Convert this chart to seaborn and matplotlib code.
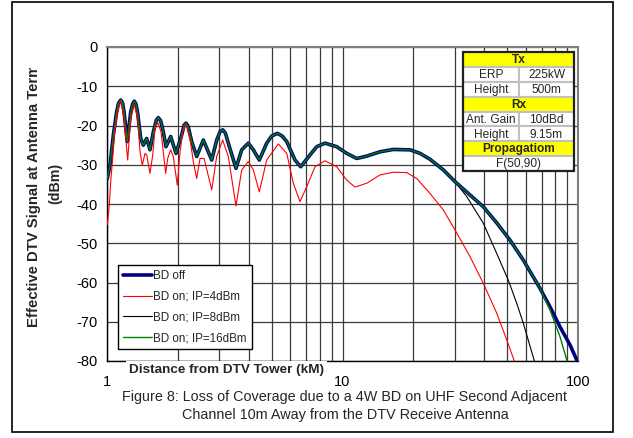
import pandas as pd
import seaborn as sns
import matplotlib.pyplot as plt
from matplotlib.patches import Rectangle
from matplotlib.transforms import Bbox, TransformedBbox


# Distance from the tower (km) and received signal (dBm)
bd_off_km = [1.003, 1.030, 1.064, 1.099, 1.120, 1.144, 1.165, 1.181, 1.219, 1.261,
             1.285, 1.306, 1.328, 1.350, 1.390, 1.426, 1.474, 1.522, 1.573, 1.620,
             1.652, 1.690, 1.734, 1.780, 1.864, 1.963, 2.076, 2.125, 2.165, 2.210,
             2.289, 2.404, 2.564, 2.784, 2.923, 3.020, 3.099, 3.180, 3.274, 3.530,
             3.733, 3.981, 4.181, 4.434, 4.766, 5.000, 5.287, 5.550, 5.798, 6.285,
             6.644, 7.278, 7.770, 8.428, 9.450, 10.42, 11.49, 12.67, 14.43, 16.44,
             19.35, 21.34, 23.52, 26.79, 30.04, 34.78, 39.62, 45.16, 51.43, 58.59,
             68.97, 76.04, 83.87, 92.48, 98.74, 100.0]
bd_off_dbm = [-33.5, -30.1, -22.4, -16.5, -14.3, -13.5, -14.3, -16.5, -24.1, -16.5,
              -14.5, -13.8, -14.6, -16.9, -23.3, -25.0, -23.3, -26.2, -21.6, -18.6,
              -18.0, -18.8, -21.6, -25.4, -22.8, -27.1, -22.4, -19.9, -19.4, -20.2,
              -24.1, -27.9, -23.7, -28.8, -23.7, -21.6, -21.1, -21.9, -24.5, -30.9,
              -26.2, -24.5, -26.2, -28.8, -24.5, -22.7, -22.0, -22.7, -24.1, -28.8,
              -30.5, -27.5, -25.4, -24.5, -25.4, -27.1, -28.4, -27.8, -26.7, -26.1,
              -26.2, -27.1, -28.6, -31.3, -34.3, -37.7, -40.7, -44.8, -49.2, -54.3,
              -61.5, -66.2, -71.3, -75.9, -79.7, -81.0]

ip4_km = [1.003, 1.023, 1.037, 1.057, 1.081, 1.117, 1.147, 1.181, 1.224, 1.261,
          1.306, 1.350, 1.381, 1.412, 1.450, 1.474, 1.522, 1.564, 1.599, 1.642,
          1.696, 1.734, 1.775, 1.810, 1.864, 1.912, 1.988, 2.042, 2.097, 2.165,
          2.251, 2.325, 2.404, 2.483, 2.582, 2.667, 2.784, 2.923, 3.099, 3.274,
          3.530, 3.733, 3.981, 4.181, 4.434, 4.766, 5.339, 5.798, 6.182, 6.600,
          7.047, 7.642, 8.428, 9.450, 10.42, 11.30, 12.67, 14.43, 16.44, 18.74,
          20.66, 23.52, 26.79, 30.04, 34.78, 39.62, 45.16, 49.81, 54.02]
ip4_dbm = [-45.3, -40.3, -34.3, -28.4, -20.7, -15.6, -13.9, -18.2, -28.8, -18.2,
           -14.6, -18.2, -26.7, -30.1, -27.1, -27.5, -32.2, -27.5, -20.7, -19.2,
           -21.6, -26.7, -32.2, -28.4, -26.2, -27.9, -35.2, -26.7, -21.6, -19.7,
           -23.3, -29.2, -33.5, -28.4, -28.4, -31.8, -36.4, -27.9, -23.7, -27.9,
           -40.5, -31.3, -29.2, -31.3, -36.9, -28.8, -24.7, -27.1, -34.7, -39.4,
           -35.6, -30.5, -29.0, -30.5, -33.9, -35.7, -34.7, -32.6, -31.9, -32.0,
           -33.5, -37.3, -41.5, -46.6, -53.4, -60.2, -67.8, -74.6, -80.5]

# IP=8 and IP=16 sit on top of "BD off" until they split away near the end
ip8_split_km = 30.1
ip8_tail_km = [33.68, 39.62, 45.16, 50.58, 54.93, 58.59, 65.06, 66.0]
ip8_tail_dbm = [-38.1, -44.9, -52.6, -59.4, -65.3, -70.4, -79.7, -81.0]

ip16_split_km = 69.0
ip16_tail_km = [76.04, 83.87, 89.54, 90.5]
ip16_tail_dbm = [-67.0, -73.8, -79.7, -81.0]

table_left = ['Tx', 'ERP', 'Height', 'Rx', 'Ant. Gain', 'Height', 'Propagatiom', 'F(50,90)']
table_right = [None, '225kW', '500m', None, '10dBd', '9.15m', None, None]
table_header = [True, False, False, True, False, False, True, False]

caption = ('Figure 8: Loss of Coverage due to a 4W BD on UHF Second Adjacent\n'
           'Channel 10m Away from the DTV Receive Antenna')


def head(km, dbm, limit):
    pairs = [(k, d) for k, d in zip(km, dbm) if k <= limit]
    return [p[0] for p in pairs], [p[1] for p in pairs]


ip8_km, ip8_dbm = head(bd_off_km, bd_off_dbm, ip8_split_km)
ip8_km, ip8_dbm = ip8_km + ip8_tail_km, ip8_dbm + ip8_tail_dbm
ip16_km, ip16_dbm = head(bd_off_km, bd_off_dbm, ip16_split_km)
ip16_km, ip16_dbm = ip16_km + ip16_tail_km, ip16_dbm + ip16_tail_dbm

frames = []
for name, km, dbm in [('BD off', bd_off_km, bd_off_dbm),
                      ('BD on; IP=4dBm', ip4_km, ip4_dbm),
                      ('BD on; IP=8dBm', ip8_km, ip8_dbm),
                      ('BD on; IP=16dBm', ip16_km, ip16_dbm)]:
    frames.append(pd.DataFrame({'km': km, 'dbm': dbm, 'series': name}))
df = pd.concat(frames, ignore_index=True)

sns.set_theme(style='white')
plt.rcParams['font.family'] = ['Liberation Sans', 'DejaVu Sans']
plt.rcParams['axes.unicode_minus'] = False

W, H = 633, 438
fig = plt.figure(figsize=(W / 100, H / 100), dpi=100)
ax = fig.add_axes([107 / W, 1 - 361 / H, 471 / W, 314 / H])

styles = {
    'BD on; IP=8dBm': dict(color='black', lw=0.8, zorder=3),
    'BD off': dict(color='#000080', lw=2.6, zorder=4),
    'BD on; IP=16dBm': dict(color='#008000', lw=1.0, zorder=5),
    'BD on; IP=4dBm': dict(color='#ff0000', lw=0.8, zorder=6),
}
for name, st in styles.items():
    sub = df[df.series == name]
    sns.lineplot(x='km', y='dbm', data=sub, ax=ax, sort=False, estimator=None,
                 label=name, **st)

ax.set_xscale('log')
ax.set_xlim(1, 100)
ax.set_ylim(-80, 0)
ax.set_xticks([1, 10, 100])
ax.set_xticklabels(['1', '10', '100'])
ax.set_yticks(range(-80, 1, 10))
ax.set_xlabel('')
ax.set_ylabel('')

ax.xaxis.grid(True, which='both', color='#3a3a3a', lw=0.9)
ax.yaxis.grid(True, which='major', color='#3a3a3a', lw=0.9)
ax.set_axisbelow(True)
ax.tick_params(axis='both', which='major', direction='out', length=4, width=1,
               color='black', labelsize=10.5, labelcolor='black')
ax.tick_params(axis='x', which='major', pad=6)
ax.tick_params(axis='y', which='major', pad=3)
ax.tick_params(axis='x', which='minor', length=0)
for side in ['left', 'bottom']:
    ax.spines[side].set_color('black')
    ax.spines[side].set_linewidth(1.0)
for side in ['top', 'right']:
    ax.spines[side].set_color('#808080')
    ax.spines[side].set_linewidth(1.5)

# legend in the order of the original
by_label = {l.get_label(): l for l in ax.get_lines()}
order = ['BD off', 'BD on; IP=4dBm', 'BD on; IP=8dBm', 'BD on; IP=16dBm']
leg = ax.legend([by_label[o] for o in order], order, loc='upper left',
                bbox_to_anchor=(118 / W, 1 - 265 / H), bbox_transform=fig.transFigure,
                frameon=True, fancybox=False, edgecolor='black', framealpha=1,
                fontsize=8.4, handlelength=2.5, handletextpad=0.08,
                labelspacing=0.74, borderpad=0.45, borderaxespad=0)
leg.get_frame().set_linewidth(1.0)
leg.set_zorder(10)

# x label sits on a white box over the axis line
fig.text(226.5 / W, 1 - 370 / H, 'Distance from DTV Tower (kM)', fontsize=9.7,
         fontweight='bold', ha='center', va='center',
         bbox=dict(boxstyle='square,pad=0.25', fc='white', ec='none'))

# y label, clipped at the top like in the original
ylab = fig.text(34 / W, 1 - 183 / H, 'Effective DTV Signal at Antenna Terminal',
                fontsize=10.7, fontweight='bold', rotation=90, ha='center', va='center')
ylab.set_clip_box(TransformedBbox(Bbox([[0, 0], [1, 1 - 68 / H]]), fig.transFigure))
ylab.set_clip_on(True)
fig.text(55 / W, 1 - 183 / H, '(dBm)', fontsize=10.2, fontweight='bold', rotation=90,
         ha='center', va='center')

fig.text(345 / W, 1 - 406 / H, caption, fontsize=10.4, ha='center', va='center',
         linespacing=1.35)

# parameter table
tab = fig.add_axes([463 / W, 1 - 171 / H, 111 / W, 119 / H])
tab.set_xlim(0, 1)
tab.set_ylim(len(table_left), 0)
tab.axis('off')
split = 0.505
for i, (left, right, hdr) in enumerate(zip(table_left, table_right, table_header)):
    if right is None:
        tab.add_patch(Rectangle((0, i), 1, 1, fc='#ffff00' if hdr else 'white',
                                ec='#c0c0c0', lw=1.5))
        tab.text(0.5, i + 0.55, left, ha='center', va='center', fontsize=8.6,
                 fontweight='bold' if hdr else 'normal')
    else:
        tab.add_patch(Rectangle((0, i), split, 1, fc='white', ec='#c0c0c0', lw=1.5))
        tab.add_patch(Rectangle((split, i), 1 - split, 1, fc='white', ec='#c0c0c0', lw=1.5))
        tab.text(split / 2, i + 0.55, left, ha='center', va='center', fontsize=8.6)
        tab.text((1 + split) / 2, i + 0.55, right, ha='center', va='center', fontsize=8.6)
tab.add_patch(Rectangle((0, 0), 1, len(table_left), fill=False, ec='#202020', lw=1.6,
                        clip_on=False))

# outer frame of the figure
fig.patches.append(Rectangle((12 / W, 1 - 432 / H), 601 / W, 430 / H,
                             transform=fig.transFigure, fill=False, ec='black', lw=1.2))

fig.savefig('out.png', dpi=100)
